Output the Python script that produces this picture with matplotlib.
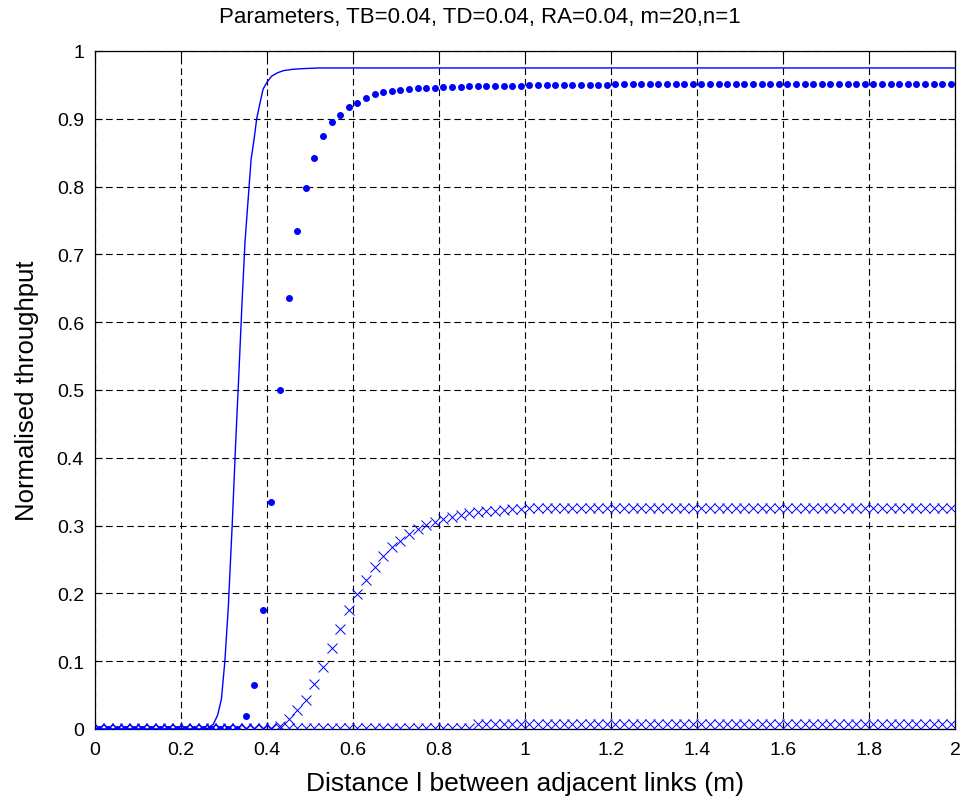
import numpy as np
import matplotlib
matplotlib.use("Agg")
import matplotlib.pyplot as plt
from matplotlib.ticker import FixedLocator, FuncFormatter

# ---- data ----
# solid curve
line_x = [0.0, 0.26, 0.275, 0.285, 0.294, 0.302, 0.31, 0.319, 0.327, 0.335, 0.342,
          0.349, 0.356, 0.363, 0.370, 0.376, 0.384, 0.391, 0.400, 0.411, 0.425,
          0.438, 0.460, 0.484, 0.52, 2.0]
line_y = [0.0, 0.0, 0.007, 0.02, 0.044, 0.10, 0.18, 0.30, 0.42, 0.53, 0.63,
          0.72, 0.78, 0.84, 0.87, 0.90, 0.924, 0.944, 0.954, 0.963, 0.968,
          0.971, 0.973, 0.974, 0.975, 0.975]

# sample positions of the marker series
sample_x = np.round(np.arange(0.01, 2.0, 0.02), 2)

dots_y = ([0.0] * 17 +
          [0.019, 0.065, 0.175, 0.335, 0.500, 0.635, 0.734, 0.798, 0.842, 0.874,
           0.895, 0.906, 0.918, 0.924, 0.930, 0.936, 0.939, 0.941, 0.943, 0.944,
           0.945, 0.946, 0.946, 0.947, 0.947, 0.947, 0.948, 0.948, 0.948, 0.948,
           0.949, 0.949, 0.949] +
          [0.950] * 10 + [0.951] * 40)

cross_y = ([0.0] * 21 +
           [0.005, 0.015, 0.028, 0.043, 0.066, 0.092, 0.120, 0.148, 0.175, 0.199,
            0.220, 0.239, 0.255, 0.268, 0.278, 0.288, 0.295, 0.301, 0.306, 0.310,
            0.313, 0.316, 0.318, 0.320, 0.321, 0.322, 0.323, 0.324, 0.325] +
           [0.3255] * 50)

low_y = [0.001] * 44 + [0.008] * 56

title = "Parameters, TB=0.04, TD=0.04, RA=0.04, m=20,n=1"
xlabel = "Distance l between adjacent links (m)"
ylabel = "Normalised throughput"
xticks = [0, 0.2, 0.4, 0.6, 0.8, 1, 1.2, 1.4, 1.6, 1.8, 2]
yticks = [0, 0.1, 0.2, 0.3, 0.4, 0.5, 0.6, 0.7, 0.8, 0.9, 1]

# ---- plot ----
plt.rcParams['font.family'] = ['Liberation Sans', 'DejaVu Sans']
fig = plt.figure(figsize=(9.61, 8.03), dpi=100)
ax = fig.add_axes([95 / 961, 1 - 730 / 803, 860 / 961, 678 / 803])

blue = (0, 0, 1)
ax.plot(line_x, line_y, '-', color=blue, lw=1.0, zorder=3)
ax.plot(sample_x, low_y, 'x', color=blue, ms=7, mew=0.7, zorder=3)
ax.plot(sample_x, cross_y, 'x', color=blue, ms=7, mew=0.7, zorder=3)
ax.plot(sample_x, dots_y, '.', color=blue, ms=8, zorder=3)

ax.set_xlim(0, 2)
ax.set_ylim(0, 1)
ax.xaxis.set_major_locator(FixedLocator(xticks))
ax.yaxis.set_major_locator(FixedLocator(yticks))
fmt = FuncFormatter(lambda v, p: "%g" % v)
ax.xaxis.set_major_formatter(fmt)
ax.yaxis.set_major_formatter(fmt)

ax.grid(True, color='black', linestyle=(0, (6, 3.5)), linewidth=0.8)
ax.tick_params(direction='in', length=5, width=0.8, top=True, right=True,
               labelsize=14, colors='black')
ax.tick_params(axis='x', pad=9)
ax.tick_params(axis='y', pad=8)
for s in ax.spines.values():
    s.set_linewidth(0.9)
    s.set_color('black')

fig.text(480 / 961, 1 - 18 / 803, title, fontsize=16, ha='center', va='center')
ax.set_xlabel(xlabel, fontsize=19, labelpad=9)
ax.set_ylabel(ylabel, fontsize=18.5, labelpad=13)

fig.savefig("out.png", dpi=100, facecolor='white')
